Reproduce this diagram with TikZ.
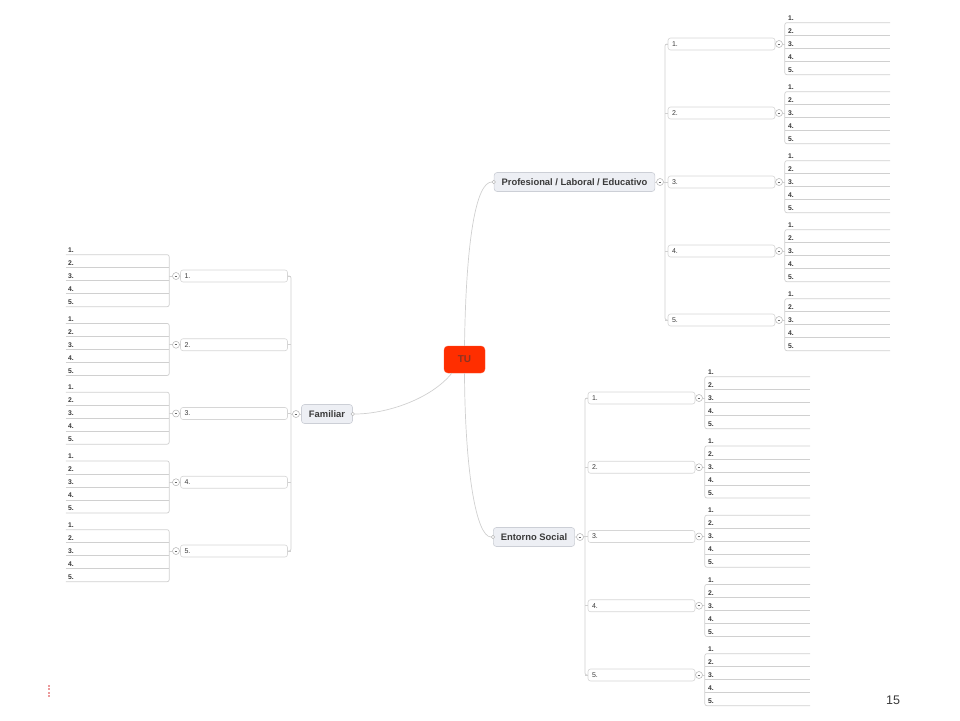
\documentclass[tikz,border=0pt]{standalone}
\usepackage{fontspec}
\setmainfont{Liberation Sans}
\definecolor{lineGray}{HTML}{D0D0D0}
\definecolor{boxGray}{HTML}{D6D6D6}
\definecolor{mainFill}{HTML}{EDEFF4}
\definecolor{mainBorder}{HTML}{CCCFD6}
\definecolor{textGray}{HTML}{3A3A3A}
\definecolor{tuRed}{HTML}{FF2E00}
\definecolor{tuText}{HTML}{8C3424}
\definecolor{dotRed}{HTML}{EC9A9C}

\begin{document}
\begin{tikzpicture}
[x=1pt,y=-1pt,
  lineDecorate/.style={-,draw=lineGray,line width=0.7pt},
  tuDecorate/.style={shape=rectangle,rounded corners=4pt,fill=tuRed,draw=tuRed!85!white,minimum width=41pt,minimum height=27pt,inner sep=0pt,font=\fontsize{10}{12}\selectfont\bfseries,text=tuText},
  mainDecorate/.style={shape=rectangle,rounded corners=3pt,fill=mainFill,draw=mainBorder,line width=0.6pt,minimum height=19pt,inner xsep=7.5pt,inner ysep=0pt,font=\fontsize{9.4}{11}\selectfont\bfseries,text=textGray},
  subDecorate/.style={shape=rectangle,rounded corners=2.5pt,fill=white,draw=boxGray,line width=0.6pt,text width=99pt,align=left,minimum height=12pt,inner xsep=4pt,inner ysep=0pt,font=\fontsize{7}{8}\selectfont,text=textGray},
  leafDecorate/.style={shape=rectangle,text width=99pt,align=left,minimum height=9pt,inner xsep=3pt,inner ysep=0pt,font=\fontsize{6.8}{8}\selectfont\bfseries,text=textGray},
  minusDecorate/.style={shape=circle,minimum size=7pt,inner sep=0pt,fill=white,draw=gray!60,line width=0.5pt,
    path picture={\draw[gray!80!black,line width=0.6pt] ([xshift=-1.3pt]path picture bounding box.center) -- ([xshift=1.3pt]path picture bounding box.center);}},
  endDecorate/.style={shape=circle,minimum size=3.5pt,inner sep=0pt,fill=white,draw=gray!55,line width=0.5pt}]
\useasboundingbox (0,0) rectangle (960,720);
%% central node
\node (tu) at (464.5,359.5) [tuDecorate] {TU};
%% main nodes
\node (prof) at (574.5,182) [mainDecorate] {Profesional / Laboral / Educativo};
\node (ent) at (534,537) [mainDecorate] {Entorno Social};
\node (fam) at (327,414) [mainDecorate] {Familiar};
\node (profEnd) at (prof.west) [endDecorate] {};
\node (entEnd) at (ent.west) [endDecorate] {};
\node (famEnd) at (fam.east) [endDecorate] {};
\node (profMinus) at (660,182) [minusDecorate] {};
\node (entMinus) at (580,537) [minusDecorate] {};
\node (famMinus) at (296,414) [minusDecorate] {};
%% right branches: name/spine x/first y/step
\foreach \br/\sx/\fy/\dy in {prof/665/44/69, ent/585/398/69.25}
{
  \coordinate (\br Spine) at (\sx,{\fy+2*\dy});
  \foreach \i in {1,...,5}
  {
    \node (\br\i) at ({\sx+56.5},{\fy+(\i-1)*\dy}) [subDecorate] {\i.};
    \node (\br\i-m) at ({\sx+114},{\fy+(\i-1)*\dy}) [minusDecorate] {};
    \foreach \k in {1,...,5}
    {
      \node (\br\i-\k) at ({\sx+172.5},{\fy+(\i-1)*\dy+(\k-3)*13}) [leafDecorate] {\k.};
    }
    %% leaves
    \draw[lineDecorate,rounded corners=2pt] (\br\i-1.south east) -- (\br\i-1.south west) -- (\br\i-5.south west) -- (\br\i-5.south east);
    \foreach \k in {2,3,4}
    {
      \draw[lineDecorate] (\br\i-\k.south west) -- (\br\i-\k.south east);
    }
    \draw[lineDecorate] (\br\i) -- (\br\i-m) -- (\br\i-m -| \br\i-1.south west);
    %% spine
    \draw[lineDecorate] (\br\i.west) -- (\br\i.west -| \br Spine);
  }
  \draw[lineDecorate,rounded corners=2pt] (\br1.west) -| (\br Spine) |- (\br5.west);
  \draw[lineDecorate] (\br) -- (\br Minus) -- (\br Spine);
}
%% left branch
\coordinate (famSpine) at (291,414);
\foreach \i in {1,...,5}
{
  \node (fam\i) at (234,{276+(\i-1)*68.75}) [subDecorate] {\i.};
  \node (fam\i-m) at (176,{276+(\i-1)*68.75}) [minusDecorate] {};
  \foreach \k in {1,...,5}
  {
    \node (fam\i-\k) at (117.5,{276+(\i-1)*68.75+(\k-3)*13}) [leafDecorate,inner xsep=2pt] {\k.};
  }
  \draw[lineDecorate,rounded corners=2pt] (fam\i-1.south west) -- (fam\i-1.south east) -- (fam\i-5.south east) -- (fam\i-5.south west);
  \foreach \k in {2,3,4}
  {
    \draw[lineDecorate] (fam\i-\k.south west) -- (fam\i-\k.south east);
  }
  \draw[lineDecorate] (fam\i) -- (fam\i-m) -- (fam\i-m -| fam\i-1.south east);
  \draw[lineDecorate] (fam\i.east) -- (fam\i.east -| famSpine);
}
\draw[lineDecorate,rounded corners=2pt] (fam1.east) -| (famSpine) |- (fam5.east);
\draw[lineDecorate] (fam) -- (famMinus) -- (famSpine);
%% curves from the centre
\draw[lineDecorate] (tu.north) .. controls (466,240) and (476,182) .. (profEnd);
\draw[lineDecorate] (tu.south) .. controls (465,470) and (476,537) .. (entEnd);
\draw[lineDecorate] ([xshift=8pt]tu.south west) .. controls (430,400) and (385,414) .. (famEnd);
%% page mark and number
\foreach \y in {684.5,688,691.5,695}
{
  \fill[dotRed] (47.5,\y) rectangle ++(2.5,2);
}
\node (page) at (893,700) [font=\fontsize{12.5}{14}\selectfont,text=textGray] {15};
\end{tikzpicture}
\end{document}
